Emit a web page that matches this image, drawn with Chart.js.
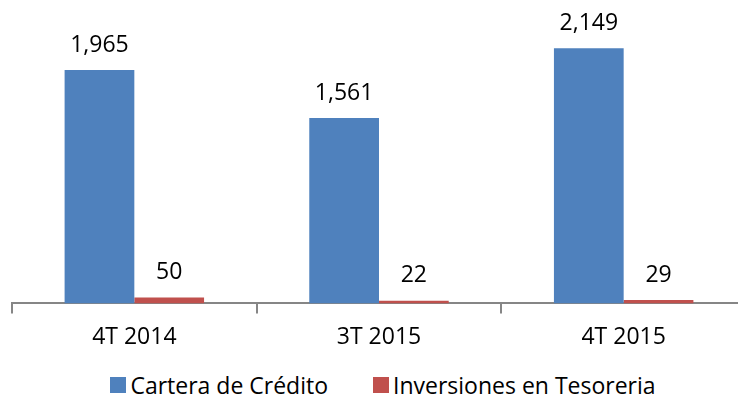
<!DOCTYPE html>
<html lang="es">
<head>
    <meta charset="UTF-8">
    <title>Cartera de Crédito vs Inversiones en Tesoreria</title>
    <script src="https://cdn.jsdelivr.net/npm/chart.js"></script>
    <style>
        body { margin: 0; background: #fff; overflow: hidden; }
        #wrap {
            position: relative;
            width: 738px;
            height: 406px;
            overflow: hidden;  /* the original chart runs a bit past the right edge */
        }
        #myChart { position: absolute; left: 0; top: 0; }
        #legend {
            position: absolute;
            left: 0;
            top: 372px;
            width: 766px;
            height: 26px;
            display: flex;
            justify-content: center;
            align-items: center;
            gap: 45px;
            font-family: "Open Sans", Lato, sans-serif;
            font-size: 23px;
            line-height: 26px;
            color: #000;
        }
        .item { display: flex; align-items: center; gap: 4px; white-space: nowrap; }
        .swatch { width: 16px; height: 16px; display: inline-block; }
    </style>
</head>
<body>
    <div id="wrap">
        <canvas id="myChart" width="766" height="365"></canvas>
        <div id="legend"></div>
    </div>

    <script>
        const periodos = ['4T 2014', '3T 2015', '4T 2015'];
        const carteraCredito = [1965, 1561, 2149];
        const inversionesTesoreria = [50, 22, 29];

        const fontFamily = '"Open Sans", Lato, sans-serif';

        // draws the value above each bar
        const valueLabels = {
            id: 'valueLabels',
            afterDatasetsDraw(chart) {
                const ctx = chart.ctx;
                ctx.save();
                ctx.font = '23px ' + fontFamily;
                ctx.fillStyle = '#000';
                ctx.textAlign = 'center';
                ctx.textBaseline = 'middle';
                chart.data.datasets.forEach((ds, i) => {
                    chart.getDatasetMeta(i).data.forEach((bar, j) => {
                        ctx.fillText(ds.data[j].toLocaleString('en-US'), bar.x, bar.y - 25);
                    });
                });
                ctx.restore();
            }
        };

        const ctx = document.getElementById('myChart').getContext('2d');
        const chart = new Chart(ctx, {
            type: 'bar',
            data: {
                labels: periodos,
                datasets: [{
                    label: 'Cartera de Crédito',
                    data: carteraCredito,
                    backgroundColor: '#4F81BD'
                }, {
                    label: 'Inversiones en Tesoreria',
                    data: inversionesTesoreria,
                    backgroundColor: '#C0504D'
                }]
            },
            options: {
                responsive: false,
                animation: false,
                layout: { padding: { left: 12, right: 20, top: 10, bottom: 4 } },
                datasets: {
                    bar: { categoryPercentage: 0.57, barPercentage: 1 }
                },
                scales: {
                    x: {
                        grid: {
                            drawOnChartArea: false,
                            drawTicks: true,
                            tickLength: 10,
                            color: '#868686',
                            lineWidth: 2
                        },
                        border: { color: '#868686', width: 2 },
                        ticks: {
                            color: '#000',
                            padding: 10,
                            font: { family: fontFamily, size: 23 }
                        }
                    },
                    y: {
                        display: false,
                        min: 0,
                        max: 2470
                    }
                },
                plugins: {
                    legend: { display: false },
                    tooltip: { enabled: false }
                }
            },
            plugins: [valueLabels]
        });

        // html legend built from the datasets
        const legend = document.getElementById('legend');
        chart.data.datasets.forEach(ds => {
            const item = document.createElement('span');
            item.className = 'item';
            const sw = document.createElement('span');
            sw.className = 'swatch';
            sw.style.background = ds.backgroundColor;
            item.appendChild(sw);
            item.appendChild(document.createTextNode(ds.label));
            legend.appendChild(item);
        });
    </script>
</body>
</html>
